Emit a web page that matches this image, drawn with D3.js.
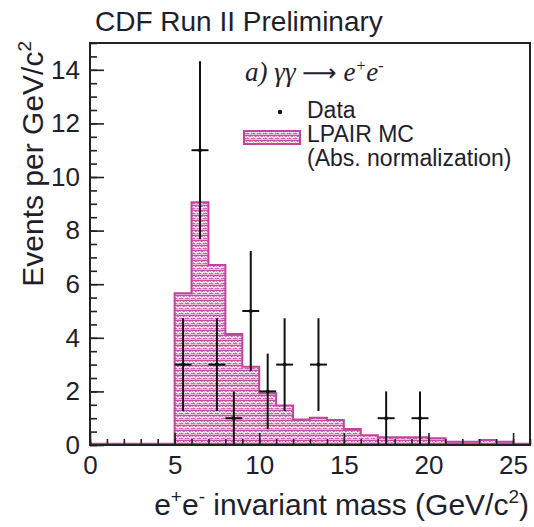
<!DOCTYPE html>
<html>
<head>
<meta charset="utf-8">
<script src="https://cdn.jsdelivr.net/npm/d3@7/dist/d3.min.js"></script>
<style>
  html, body { margin: 0; padding: 0; background: #fff; }
  svg { display: block; }
  text { font-family: "Liberation Sans", Arial, sans-serif; fill: #1e1e2c; }
</style>
</head>
<body>
<svg id="chart" width="534" height="527"></svg>
<script>
// ---- data ----
const binLow = 0, binWidth = 1;
const mcValues = [0, 0, 0, 0, 0, 5.66, 9.06, 6.72, 4.14, 2.92, 1.93, 1.47, 0.95, 1.02, 0.93, 0.60, 0.36, 0.29, 0.29, 0.29, 0.25, 0.12, 0.12, 0.19, 0.12, 0.0];
const dataMass = [5.5, 6.5, 7.5, 8.5, 9.5, 10.5, 11.5, 13.5, 17.5, 19.5];
const dataCounts = [3, 11, 3, 1, 5, 2, 3, 3, 1, 1];
const dataErrors = [1.73, 3.32, 1.73, 1.0, 2.24, 1.41, 1.73, 1.73, 1.0, 1.0];
const xTickLabels = [0, 5, 10, 15, 20, 25];
const yTickLabels = [0, 2, 4, 6, 8, 10, 12, 14];

(function () {
const svg = d3.select("#chart");
const pL = 90, pR = 530, pT = 43, pB = 445;
const x = d3.scaleLinear().domain([0, 26]).range([pL, pR]);
const y = d3.scaleLinear().domain([0, 15]).range([pB, pT]);

const magenta = "#c2449c";

// pattern fill
const defs = svg.append("defs");
const pat = defs.append("pattern").attr("id", "hatch").attr("patternUnits", "userSpaceOnUse")
  .attr("width", 6).attr("height", 5);
pat.append("rect").attr("width", 6).attr("height", 5).attr("fill", "#c64fa3");
pat.append("path").attr("d", "M0.4,3.2 Q1.4,0.6 2.8,2.4 Q4.2,4.2 5.6,1.4")
  .attr("fill", "none").attr("stroke", "#fff").attr("stroke-width", 1.4);
pat.append("line").attr("x1", 0).attr("x2", 6).attr("y1", 4.6).attr("y2", 4.6)
  .attr("stroke", "#f6e2f0").attr("stroke-width", 0.8);

// histogram
const pts = mcValues.map((v, i) => [binLow + i * binWidth, v]);
pts.push([binLow + mcValues.length * binWidth, mcValues[mcValues.length - 1]]);
const area = d3.area().x(d => x(d[0])).y0(y(0)).y1(d => y(d[1])).curve(d3.curveStepAfter);
const line = d3.line().x(d => x(d[0])).y(d => y(d[1])).curve(d3.curveStepAfter);
svg.append("path").datum(pts).attr("d", area).attr("fill", "url(#hatch)");
svg.append("path").datum(pts).attr("d", line).attr("fill", "none")
  .attr("stroke", magenta).attr("stroke-width", 2);
svg.append("line").attr("x1", x(0)).attr("x2", x(26)).attr("y1", y(0) - 1).attr("y2", y(0) - 1)
  .attr("stroke", magenta).attr("stroke-width", 2.5);

// data points
const g = svg.append("g").attr("stroke", "#111").attr("stroke-width", 2);
dataMass.forEach((m, i) => {
  const c = dataCounts[i], e = dataErrors[i];
  g.append("line").attr("x1", x(m)).attr("x2", x(m))
    .attr("y1", y(c + e)).attr("y2", y(Math.max(0, c - e)));
  g.append("line").attr("x1", x(m - binWidth / 2)).attr("x2", x(m + binWidth / 2))
    .attr("y1", y(c)).attr("y2", y(c));
});
svg.append("g").selectAll("circle").data(dataMass).join("circle")
  .attr("cx", d => x(d)).attr("cy", (d, i) => y(dataCounts[i])).attr("r", 2).attr("fill", "#111");

// axes (ticks inward)
const axisColor = "#222";
function styleAxis(sel) {
  sel.select(".domain").remove();
  sel.selectAll("line").attr("stroke", axisColor).attr("stroke-width", 1.6);
}
svg.append("g").attr("transform", `translate(0,${pB})`)
  .call(d3.axisBottom(x).tickValues(d3.range(0, 27, 1)).tickSize(-6).tickFormat(""))
  .call(styleAxis);
svg.append("g").attr("transform", `translate(0,${pB})`)
  .call(d3.axisBottom(x).tickValues(xTickLabels).tickSize(-12).tickFormat(d3.format("d")).tickPadding(8))
  .call(styleAxis)
  .call(s => s.selectAll("text").attr("font-size", 26).attr("y", 9).attr("dy", "0.75em").attr("fill", "#1e1e2c")
    .style("font-family", "Liberation Sans, Arial, sans-serif"));
svg.append("g").attr("transform", `translate(${pL},0)`)
  .call(d3.axisLeft(y).tickValues(d3.range(0, 15.01, 0.5)).tickSize(-7).tickFormat(""))
  .call(styleAxis);
svg.append("g").attr("transform", `translate(${pL},0)`)
  .call(d3.axisLeft(y).tickValues(yTickLabels).tickSize(-14).tickFormat(d3.format("d")).tickPadding(9))
  .call(styleAxis)
  .call(s => s.selectAll("text").attr("font-size", 26).attr("x", -10).attr("fill", "#1e1e2c")
    .style("font-family", "Liberation Sans, Arial, sans-serif"));

// frame
svg.append("rect").attr("x", pL).attr("y", pT).attr("width", pR - pL).attr("height", pB - pT)
  .attr("fill", "none").attr("stroke", "#222").attr("stroke-width", 2);

// titles
svg.append("text").attr("x", 95).attr("y", 31).attr("font-size", 28).text("CDF Run II Preliminary");

const xt = svg.append("text").attr("x", 529).attr("y", 515).attr("text-anchor", "end").attr("font-size", 30);
xt.append("tspan").text("e");
xt.append("tspan").attr("dy", -12).attr("font-size", 19).text("+");
xt.append("tspan").attr("dy", 12).text("e");
xt.append("tspan").attr("dy", -12).attr("font-size", 19).text("-");
xt.append("tspan").attr("dy", 12).text(" invariant mass (GeV/c");
xt.append("tspan").attr("dy", -12).attr("font-size", 19).text("2");
xt.append("tspan").attr("dy", 12).text(")");

const yt = svg.append("text").attr("transform", "translate(43,41) rotate(-90)")
  .attr("text-anchor", "end").attr("font-size", 30);
yt.append("tspan").text("Events per GeV/c");
yt.append("tspan").attr("dy", -12).attr("font-size", 19).text("2");

// annotation
const ann = svg.append("text").attr("x", 245).attr("y", 81).attr("font-size", 27)
  .style("font-family", "Liberation Serif, Times New Roman, serif").attr("font-style", "italic");
ann.append("tspan").text("a) γγ ");
ann.append("tspan").attr("font-style", "normal").style("font-family", "DejaVu Sans, sans-serif")
  .attr("font-size", 24).text("⟶");
ann.append("tspan").text(" e");
ann.append("tspan").attr("dy", -10).attr("font-size", 16).text("+");
ann.append("tspan").attr("dy", 10).text("e");
ann.append("tspan").attr("dy", -10).attr("font-size", 16).text("-");

// legend
svg.append("circle").attr("cx", 280).attr("cy", 112).attr("r", 2.2).attr("fill", "#111");
svg.append("text").attr("x", 307).attr("y", 118).attr("font-size", 23).text("Data");
svg.append("rect").attr("x", 244).attr("y", 131).attr("width", 56).attr("height", 13)
  .attr("fill", "url(#hatch)").attr("stroke", magenta).attr("stroke-width", 2);
svg.append("text").attr("x", 307).attr("y", 142).attr("font-size", 23).text("LPAIR MC");
svg.append("text").attr("x", 307).attr("y", 166).attr("font-size", 23).text("(Abs. normalization)");
})();
</script>
</body>
</html>
